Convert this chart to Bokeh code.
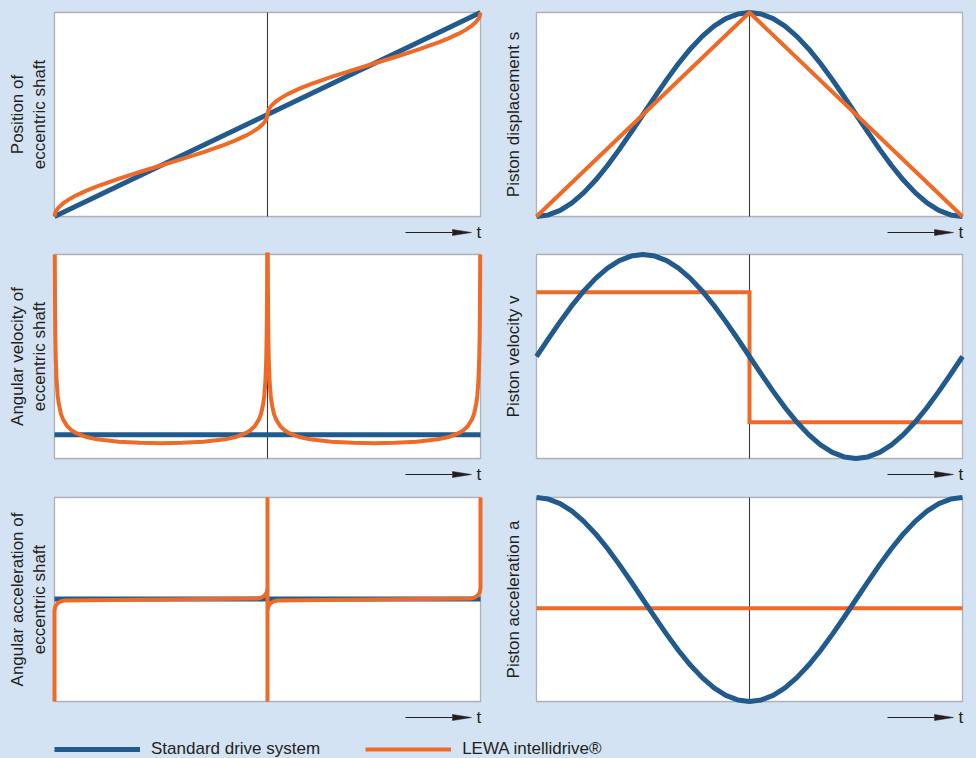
import math
from bokeh.plotting import figure
from bokeh.models import (Range1d, Label, BoxAnnotation, Legend, LegendItem,
                          GlobalInlineStyleSheet)
from bokeh.layouts import column, row
from bokeh.embed import file_html
from bokeh.resources import INLINE

# ------------------------------------------------------------------
# Data: normalised cycle time (0..1) and normalised value (0..1 of panel)
# ------------------------------------------------------------------
# time grid in 10-degree steps of the crank angle
t_grid = [0, 0.0278, 0.0556, 0.0833, 0.1111, 0.1389, 0.1667, 0.1944, 0.2222,
          0.25, 0.2778, 0.3056, 0.3333, 0.3611, 0.3889, 0.4167, 0.4444, 0.4722,
          0.5, 0.5278, 0.5556, 0.5833, 0.6111, 0.6389, 0.6667, 0.6944, 0.7222,
          0.75, 0.7778, 0.8056, 0.8333, 0.8611, 0.8889, 0.9167, 0.9444, 0.9722, 1.0]

# Standard drive system
pos_std_t = [0, 1]
pos_std = [0, 1]
angvel_std_t = [0, 1]
angvel_std = [0.116, 0.116]
angacc_std_t = [0, 1]
angacc_std = [0.503, 0.503]
disp_std = [0, 0.0076, 0.0302, 0.0670, 0.1170, 0.1786, 0.25, 0.3290, 0.4132,
            0.5, 0.5868, 0.6710, 0.75, 0.8214, 0.8830, 0.9330, 0.9698, 0.9924,
            1.0, 0.9924, 0.9698, 0.9330, 0.8830, 0.8214, 0.75, 0.6710, 0.5868,
            0.5, 0.4132, 0.3290, 0.25, 0.1786, 0.1170, 0.0670, 0.0302, 0.0076, 0]
vel_std = [0.5, 0.5868, 0.6710, 0.75, 0.8214, 0.8830, 0.9330, 0.9698, 0.9924,
           1.0, 0.9924, 0.9698, 0.9330, 0.8830, 0.8214, 0.75, 0.6710, 0.5868,
           0.5, 0.4132, 0.3290, 0.25, 0.1786, 0.1170, 0.0670, 0.0302, 0.0076,
           0.0, 0.0076, 0.0302, 0.0670, 0.1170, 0.1786, 0.25, 0.3290, 0.4132, 0.5]
acc_std = [1.0, 0.9924, 0.9698, 0.9330, 0.8830, 0.8214, 0.75, 0.6710, 0.5868,
           0.5, 0.4132, 0.3290, 0.25, 0.1786, 0.1170, 0.0670, 0.0302, 0.0076,
           0.0, 0.0076, 0.0302, 0.0670, 0.1170, 0.1786, 0.25, 0.3290, 0.4132,
           0.5, 0.5868, 0.6710, 0.75, 0.8214, 0.8830, 0.9330, 0.9698, 0.9924, 1.0]

# LEWA intellidrive
pos_lewa_t = [0, .002, .005, .01, .02, .035, .05, .075, .1, .15, .2, .25, .3,
              .35, .4, .425, .45, .465, .48, .49, .495, .498, .5, .502, .505,
              .51, .52, .535, .55, .575, .6, .65, .7, .75, .8, .85, .9, .925,
              .95, .965, .98, .99, .995, .998, 1]
pos_lewa = [0, .0202, .0319, .0452, .0641, .0852, .1024, .1266, .1476, .1845,
            .2180, .25, .2821, .3155, .3524, .3734, .3976, .4148, .4359, .4548,
            .4681, .4799, .5, .5201, .5319, .5452, .5641, .5852, .6024, .6266,
            .6476, .6845, .7179, .75, .7820, .8155, .8524, .8734, .8976, .9148,
            .9359, .9548, .9681, .9798, 1]

angvel_lewa_t = [0.0007, 0.001, 0.0015, 0.002, 0.003, 0.005, 0.0075, 0.01, 0.015,
                 0.02, 0.03, 0.04, 0.05, 0.075, 0.1, 0.15, 0.2, 0.25, 0.3, 0.35,
                 0.4, 0.425, 0.45, 0.46, 0.47, 0.48, 0.485, 0.49, 0.4925, 0.495,
                 0.497, 0.498, 0.4985, 0.499, 0.4993,
                 0.5007, 0.501, 0.5015, 0.502, 0.503, 0.505, 0.5075, 0.51, 0.515,
                 0.52, 0.53, 0.54, 0.55, 0.575, 0.6, 0.65, 0.7, 0.75, 0.8, 0.85,
                 0.9, 0.925, 0.95, 0.96, 0.97, 0.98, 0.985, 0.99, 0.9925, 0.995,
                 0.997, 0.998, 0.9985, 0.999, 0.9993]
angvel_lewa = [1.0, 0.8407, 0.6868, 0.5951, 0.4864, 0.3775, 0.3090, 0.2683, 0.2202,
               0.1917, 0.1582, 0.1384, 0.1252, 0.1052, 0.0939, 0.0820, 0.0767,
               0.0751, 0.0767, 0.0820, 0.0939, 0.1052, 0.1252, 0.1384, 0.1582,
               0.1917, 0.2202, 0.2683, 0.3090, 0.3775, 0.4864, 0.5951, 0.6868,
               0.8407, 1.0,
               1.0, 0.8407, 0.6868, 0.5951, 0.4864, 0.3775, 0.3090, 0.2683, 0.2202,
               0.1917, 0.1582, 0.1384, 0.1252, 0.1052, 0.0939, 0.0820, 0.0767,
               0.0751, 0.0767, 0.0820, 0.0939, 0.1052, 0.1252, 0.1384, 0.1582,
               0.1917, 0.2202, 0.2683, 0.3090, 0.3775, 0.4864, 0.5951, 0.6868,
               0.8407, 1.0]

angacc_lewa_t = [0.0, 0.0, 0.0018, 0.0069, 0.0145, 0.0235, 0.25, 0.4765, 0.4855,
                 0.4931, 0.4982, 0.5, 0.5,
                 0.5, 0.5, 0.5018, 0.5069, 0.5145, 0.5235, 0.75, 0.9765, 0.9855,
                 0.9931, 0.9982, 1.0, 1.0]
angacc_lewa = [0.0, 0.4460, 0.4647, 0.4807, 0.4913, 0.495, 0.5, 0.505, 0.5087,
               0.5193, 0.5353, 0.5540, 1.0,
               0.0, 0.4460, 0.4647, 0.4807, 0.4913, 0.495, 0.5, 0.505, 0.5087,
               0.5193, 0.5353, 0.5540, 1.0]

disp_lewa_t = [0, 0.5, 1]
disp_lewa = [0, 1, 0]
vel_lewa_t = [0, 0.5, 0.5, 1]
vel_lewa = [0.815, 0.815, 0.178, 0.178]
acc_lewa_t = [0, 1]
acc_lewa = [0.457, 0.457]

half_cycle = 0.5

labels_left = ["Position of\neccentric shaft",
               "Angular velocity of\neccentric shaft",
               "Angular acceleration of\neccentric shaft"]
labels_right = ["Piston displacement s", "Piston velocity v", "Piston acceleration a"]
legend_labels = ["Standard drive system", "LEWA intellidrive\u00ae"]
time_label = "t"

# ------------------------------------------------------------------
# Styling / layout constants (pixels)
# ------------------------------------------------------------------
BLUE = "#215b8d"
ORANGE = "#ee6a26"
BG = "#d4e3f3"
INK = "#231f20"
FONT = "Liberation Sans"
FS = "17px"

BOX_W = 426
BOX_H = 204
COL_W = [496, 480]
BOX_LEFT = [54, 40]
LABEL_CX = [28, 17]
ROW_H = [242, 243, 243]
BOX_TOP = 12
LEG_H = 30


def make_panel(col, r, label, blue, orange, blue_on_top=False):
    width, height = COL_W[col], ROW_H[r]
    bl = BOX_LEFT[col]
    p = figure(width=width, height=height,
               x_range=Range1d(-bl / BOX_W, (width - bl) / BOX_W),
               y_range=Range1d(1 - (height - BOX_TOP) / BOX_H, 1 + BOX_TOP / BOX_H),
               x_axis_location=None, y_axis_location=None,
               toolbar_location=None, output_backend="svg",
               min_border=0, min_border_left=0, min_border_right=0,
               min_border_top=0, min_border_bottom=0,
               background_fill_color=BG, border_fill_color=BG,
               outline_line_color=None)
    p.xgrid.visible = False
    p.ygrid.visible = False
    p.add_layout(BoxAnnotation(left=0, right=1, bottom=0, top=1,
                               fill_color="white", fill_alpha=1.0,
                               line_color=INK, line_width=1.3, level="underlay"))
    p.segment(x0=[half_cycle], y0=[0], x1=[half_cycle], y1=[1],
              line_color="#3a3a3a", line_width=1.1)

    def draw_blue():
        p.line(blue[0], blue[1], line_color=BLUE, line_width=5,
               line_join="round")

    def draw_orange():
        p.line(orange[0], orange[1], line_color=ORANGE, line_width=4,
               line_join="miter")

    if blue_on_top:
        draw_orange(); draw_blue()
    else:
        draw_blue(); draw_orange()

    # y label
    p.add_layout(Label(x=(LABEL_CX[col] - bl) / BOX_W, y=0.5, text=label,
                       angle=math.pi / 2, angle_units="rad",
                       text_align="center", text_baseline="middle",
                       text_font=FONT, text_font_size=FS, text_color=INK,
                       text_line_height=1.12))
    # time arrow below the box
    ya = -16 / BOX_H
    x_start = 1 - 75 / BOX_W
    x_base = 1 - 28 / BOX_W
    x_tip = 1 - 9 / BOX_W
    p.segment(x0=[x_start], y0=[ya], x1=[x_base], y1=[ya],
              line_color=INK, line_width=1.1)
    p.patch([x_base, x_tip, x_base], [ya + 3 / BOX_H, ya, ya - 3 / BOX_H],
            fill_color=INK, line_color=INK, line_width=0.5)
    p.add_layout(Label(x=1 - 4 / BOX_W, y=ya, text=time_label,
                       text_align="left", text_baseline="middle",
                       text_font=FONT, text_font_size=FS, text_color=INK))
    return p


p1 = make_panel(0, 0, labels_left[0], (pos_std_t, pos_std), (pos_lewa_t, pos_lewa))
p2 = make_panel(1, 0, labels_right[0], (t_grid, disp_std), (disp_lewa_t, disp_lewa))
p3 = make_panel(0, 1, labels_left[1], (angvel_std_t, angvel_std), (angvel_lewa_t, angvel_lewa))
p4 = make_panel(1, 1, labels_right[1], (t_grid, vel_std), (vel_lewa_t, vel_lewa), blue_on_top=True)
p5 = make_panel(0, 2, labels_left[2], (angacc_std_t, angacc_std), (angacc_lewa_t, angacc_lewa))
p6 = make_panel(1, 2, labels_right[2], (t_grid, acc_std), (acc_lewa_t, acc_lewa), blue_on_top=True)

# legend strip: its two line renderers carry the series but lie outside the
# visible y-range, so only their legend swatches show
lf = figure(width=sum(COL_W), height=LEG_H, x_range=Range1d(0, 1), y_range=Range1d(5, 6),
            x_axis_location=None, y_axis_location=None, toolbar_location=None,
            output_backend="svg", min_border=0, background_fill_color=BG,
            border_fill_color=BG, outline_line_color=None)
lf.xgrid.visible = False
lf.ygrid.visible = False
rb = lf.line(pos_std_t, pos_std, line_color=BLUE, line_width=5)
ro = lf.line(acc_lewa_t, acc_lewa, line_color=ORANGE, line_width=4)
legend = Legend(items=[LegendItem(label=legend_labels[0], renderers=[rb]),
                       LegendItem(label=legend_labels[1], renderers=[ro])],
                orientation="horizontal", location=(54, -1),
                glyph_width=86, glyph_height=20, label_standoff=11, spacing=45,
                padding=0, margin=0, border_line_color=None,
                background_fill_alpha=0.0, label_text_font=FONT,
                label_text_font_size=FS, label_text_color=INK)
lf.add_layout(legend)

page = column(row(p1, p2), row(p3, p4), row(p5, p6), lf)
page.stylesheets = [GlobalInlineStyleSheet(css="body { background-color: #d4e3f3; }")]

open("out.html", "w").write(file_html(page, INLINE))
